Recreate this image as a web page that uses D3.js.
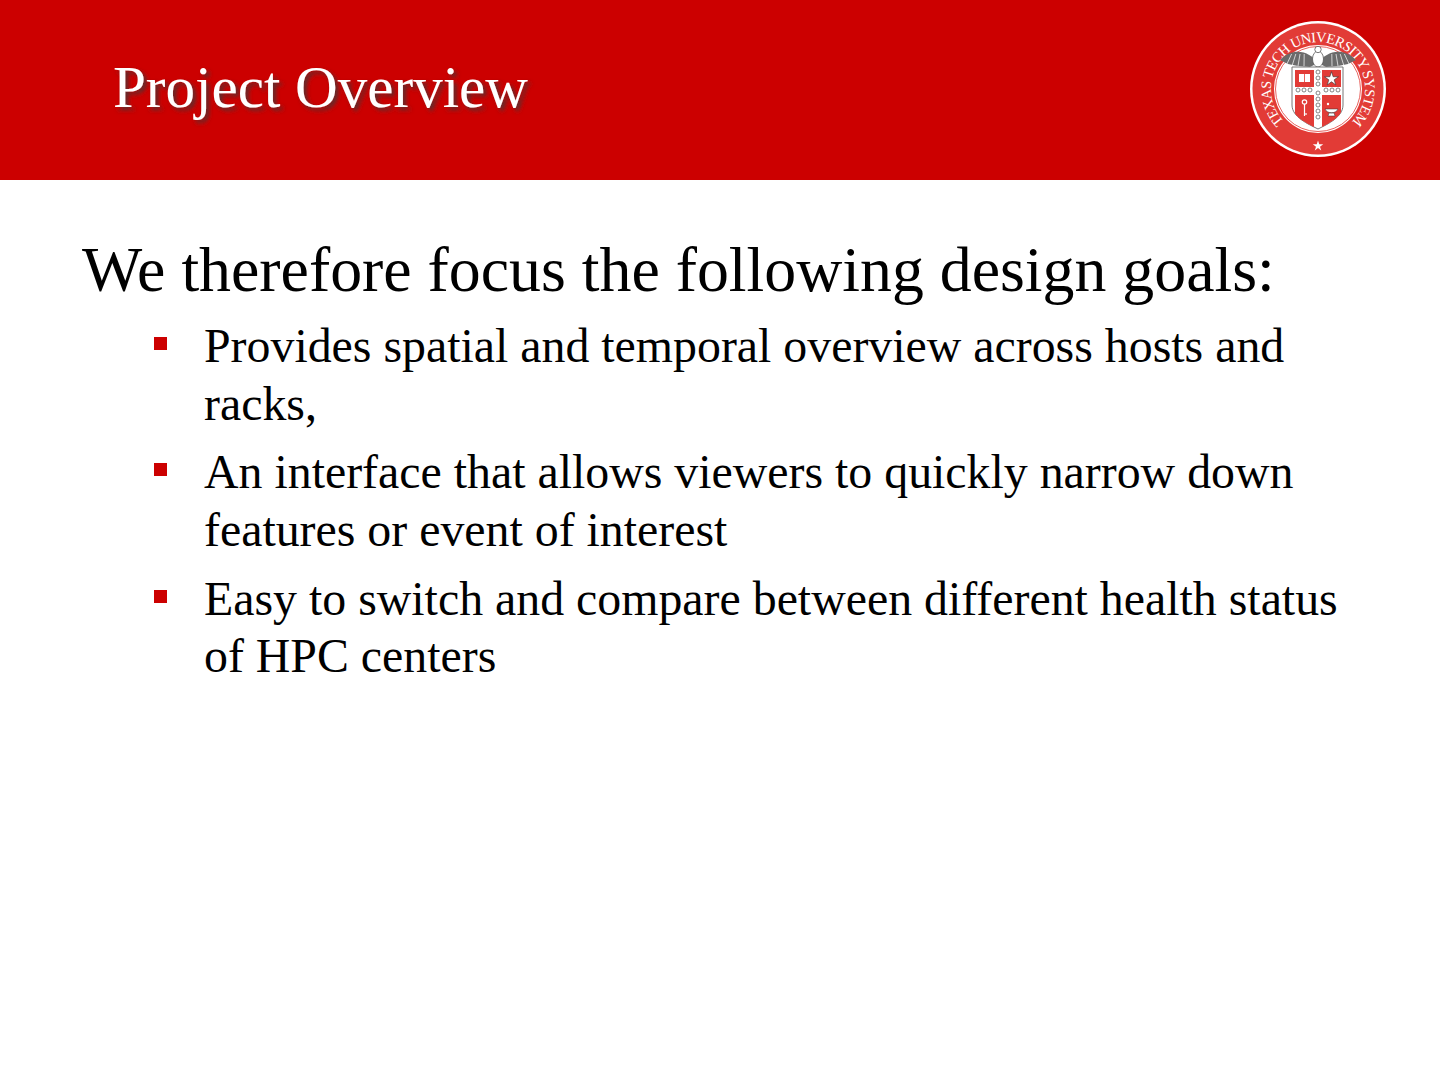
<!DOCTYPE html>
<html>
<head>
<meta charset="utf-8">
<script src="https://cdn.jsdelivr.net/npm/d3@7/dist/d3.min.js"></script>
<style>
  html, body { margin: 0; padding: 0; background: #fff; }
  svg { display: block; }
</style>
</head>
<body>
<svg id="slide" width="1440" height="1080"></svg>
<script>
// ---- content ----
const titleText = "Project Overview";
const headingText = "We therefore focus the following design goals:";
const bulletLines = [
  ["Provides spatial and temporal overview across hosts and", "racks,"],
  ["An interface that allows viewers to quickly narrow down", "features or event of interest"],
  ["Easy to switch and compare between different health status", "of HPC centers"]
];
const sealText = "TEXAS TECH UNIVERSITY SYSTEM";

// ---- layout ----
const W = 1440, H = 1080;
const red = "#cc0000";
const bandRed = "#e23b36";
const serif = "'Liberation Serif', 'Times New Roman', Times, serif";

const svg = d3.select("#slide");

const defs = svg.append("defs");
const f = defs.append("filter").attr("id", "shadow")
  .attr("x", "-10%").attr("y", "-20%").attr("width", "130%").attr("height", "160%");
f.append("feDropShadow").attr("dx", 3).attr("dy", 3).attr("stdDeviation", 2)
  .attr("flood-color", "#3a3a3a").attr("flood-opacity", 0.8);

svg.append("rect").attr("width", W).attr("height", H).attr("fill", "#fff");
svg.append("rect").attr("width", W).attr("height", 180).attr("fill", red);

function fit(sel, target) {
  const fs = parseFloat(sel.attr("font-size"));
  const len = sel.node().getComputedTextLength();
  sel.attr("font-size", fs * target / len);
}

// title
const title = svg.append("text")
  .attr("x", 113).attr("y", 107)
  .attr("font-family", serif).attr("font-size", 54)
  .attr("fill", "#fff").attr("filter", "url(#shadow)")
  .text(titleText);
fit(title, 415);

// heading
const heading = svg.append("text")
  .attr("x", 82).attr("y", 291)
  .attr("font-family", serif).attr("font-size", 60)
  .attr("fill", "#000")
  .text(headingText);
fit(heading, 1193);

// bullets
const baselines = [[362, 420], [488, 546], [615, 672]];
const measure = svg.append("text").attr("font-family", serif).attr("font-size", 44)
  .text(bulletLines[2][0]);
const bfs = 44 * 1134 / measure.node().getComputedTextLength();
measure.remove();

const bg = svg.append("g").selectAll("g").data(bulletLines).join("g");
bg.append("rect")
  .attr("x", 154).attr("y", (d, i) => baselines[i][0] - 25)
  .attr("width", 13).attr("height", 13).attr("fill", red);
bg.selectAll("text").data((d, i) => d.map((t, j) => ({t, y: baselines[i][j]})))
  .join("text")
  .attr("x", 204).attr("y", d => d.y)
  .attr("font-family", serif).attr("font-size", bfs)
  .attr("fill", "#000")
  .text(d => d.t);

// ---- seal ----
const seal = svg.append("g").attr("transform", "translate(1318,89)");
seal.append("circle").attr("r", 68).attr("fill", "#fff");
seal.append("circle").attr("r", 65.5).attr("fill", bandRed);
seal.append("circle").attr("r", 44).attr("fill", "#fff");
seal.append("circle").attr("r", 42.5).attr("fill", "none").attr("stroke", bandRed).attr("stroke-width", 0.8);

const rT = 47, a0 = -134 * Math.PI / 180, a1 = 134 * Math.PI / 180;
const pt = (r, a) => [r * Math.sin(a), -r * Math.cos(a)];
const p0 = pt(rT, a0), p1 = pt(rT, a1);
defs.append("path").attr("id", "sealArc")
  .attr("d", `M${p0[0]},${p0[1]} A${rT},${rT} 0 1 1 ${p1[0]},${p1[1]}`);
seal.append("text")
  .attr("font-family", serif).attr("font-size", 14.5).attr("fill", "#fff")
  .append("textPath").attr("href", "#sealArc")
  .attr("textLength", rT * (a1 - a0)).attr("lengthAdjust", "spacing")
  .text(sealText);

const star = d3.symbol().type(d3.symbolStar).size(34);
seal.append("path").attr("d", star()).attr("transform", "translate(0,57)").attr("fill", "#fff");

// eagle
const wing = "M0,-26 C-8,-37 -24,-43 -38,-29 L-30,-25 L-20,-23 L-8,-22 Z";
seal.append("path").attr("d", wing).attr("fill", "#6b6b6b");
seal.append("path").attr("d", wing).attr("transform", "scale(-1,1)").attr("fill", "#6b6b6b");
[-32, -26, -20, -14].forEach(x => {
  seal.append("line").attr("x1", x).attr("y1", -23).attr("x2", x * 0.7 - 4).attr("y2", -35)
    .attr("stroke", "#fff").attr("stroke-width", 0.7);
  seal.append("line").attr("x1", -x).attr("y1", -23).attr("x2", -(x * 0.7 - 4)).attr("y2", -35)
    .attr("stroke", "#fff").attr("stroke-width", 0.7);
});
seal.append("ellipse").attr("cx", 0).attr("cy", -30).attr("rx", 5.5).attr("ry", 8)
  .attr("fill", "#fff").attr("stroke", "#555").attr("stroke-width", 0.8);
seal.append("circle").attr("cx", 0).attr("cy", -39.5).attr("r", 3.2)
  .attr("fill", "#fff").attr("stroke", "#555").attr("stroke-width", 0.8);

// shield
const shieldPath = "M-26,-22 L25,-22 L25,16 C25,28 10,35 0,40 C-10,35 -26,28 -26,16 Z";
defs.append("clipPath").attr("id", "shieldClip").append("path").attr("d", shieldPath);
seal.append("path").attr("d", shieldPath).attr("fill", "#fff").attr("stroke", "#777").attr("stroke-width", 1);
const sh = seal.append("g").attr("clip-path", "url(#shieldClip)");
sh.append("rect").attr("x", -23).attr("y", -19).attr("width", 19).attr("height", 17).attr("fill", bandRed);
sh.append("rect").attr("x", 4).attr("y", -19).attr("width", 19).attr("height", 17).attr("fill", bandRed);
sh.append("rect").attr("x", -23).attr("y", 6).attr("width", 19).attr("height", 32).attr("fill", bandRed);
sh.append("rect").attr("x", 4).attr("y", 6).attr("width", 19).attr("height", 32).attr("fill", bandRed);
// book
seal.append("rect").attr("x", -19).attr("y", -15).attr("width", 11).attr("height", 8).attr("fill", "#fff");
seal.append("line").attr("x1", -13.5).attr("y1", -15).attr("x2", -13.5).attr("y2", -7).attr("stroke", bandRed).attr("stroke-width", 0.8);
// star
seal.append("path").attr("d", d3.symbol().type(d3.symbolStar).size(60)()).attr("transform", "translate(13.5,-10)")
  .attr("fill", "#fff").attr("stroke", "#333").attr("stroke-width", 0.6);
// key
seal.append("circle").attr("cx", -13.5).attr("cy", 13).attr("r", 2.2).attr("fill", "none").attr("stroke", "#fff").attr("stroke-width", 1.2);
seal.append("line").attr("x1", -13.5).attr("y1", 15).attr("x2", -13.5).attr("y2", 27).attr("stroke", "#fff").attr("stroke-width", 1.2);
seal.append("line").attr("x1", -13.5).attr("y1", 25).attr("x2", -11).attr("y2", 25).attr("stroke", "#fff").attr("stroke-width", 1.2);
// lamp
seal.append("path").attr("d", "M7,20 C9,25 18,25 20,20 Z M11,24 L16,24 L17,27 L10,27 Z").attr("fill", "#fff").attr("stroke", "#333").attr("stroke-width", 0.5);
seal.append("circle").attr("cx", 10).attr("cy", 15).attr("r", 1.2).attr("fill", "#fff");
// chain links
const links = [[0,-17],[0,-11],[0,-5],[0,4],[0,10],[0,16],[0,22],[0,28],[-20,1],[-14,1],[-8,1],[8,1],[14,1],[20,1]];
seal.append("g").selectAll("ellipse").data(links).join("ellipse")
  .attr("cx", d => d[0]).attr("cy", d => d[1]).attr("rx", 2).attr("ry", 2)
  .attr("fill", "none").attr("stroke", "#666").attr("stroke-width", 0.8);
</script>
</body>
</html>
